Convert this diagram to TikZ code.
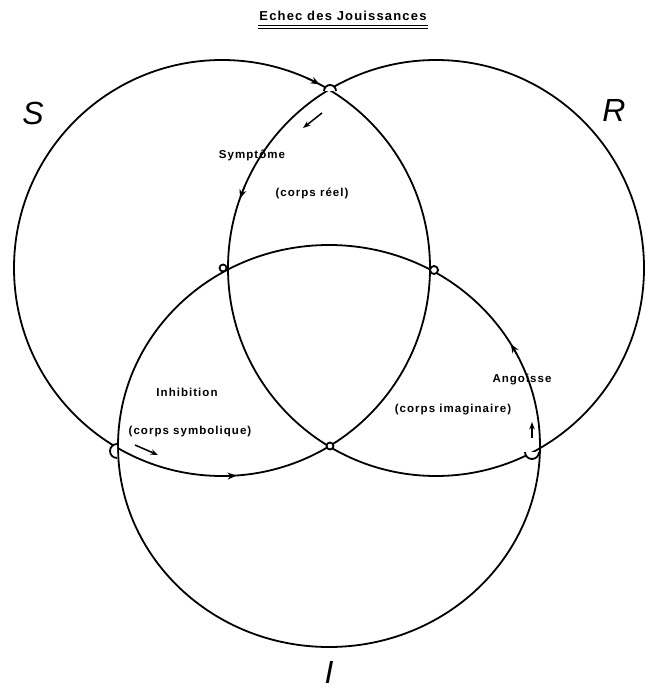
\documentclass[tikz,border=0pt]{standalone}
\usepackage{fontspec}
\setmainfont{Liberation Sans}
\newfontfamily\labfont[LetterSpace=9]{Liberation Sans}
\newfontfamily\bigfont{Liberation Sans}
\usetikzlibrary{arrows.meta}
\tikzset{
  ring/.style={draw, line width=1.8pt},
  lbl/.style={inner sep=0pt, font=\labfont\bfseries\fontsize{11.5}{12}\selectfont},
  reg/.style={inner sep=0pt, font=\bigfont\itshape\fontsize{32}{34}\selectfont},
  tipline/.style={line width=1.5pt, -{Stealth[length=7.5pt,width=5.5pt]}},
  tiponly/.style={line width=1.5pt, -{Stealth[length=9pt,width=7pt]}},
  loopmark/.style={draw, line width=1.8pt, fill=white}
}
\begin{document}
\begin{tikzpicture}[x=1pt,y=-1pt]
\useasboundingbox (0,0) rectangle (652,692);
% circles
\draw[ring] (222,268) circle[radius=208];
\draw[ring] (436,268) circle[radius=208];
\draw[ring] (329,446) ellipse[x radius=211, y radius=201];
% junction coordinates
\coordinate (jT) at (330,91);
\coordinate (jL) at (223,268);
\coordinate (jRr) at (434,270);
\coordinate (jC) at (330,446);
\coordinate (jBL) at (117,451);
\coordinate (jBR) at (532,452);
% junction loops
\draw[loopmark] ([shift={(-6,0)}]jT) arc[start angle=180, end angle=360, radius=6];
\draw[loopmark] (jL) circle[radius=3.5];
\draw[loopmark] (jRr) circle[radius=4];
\draw[loopmark] (jC) circle[radius=3.5];
\draw[loopmark] ([shift={(0,-7)}]jBL) arc[start angle=-90, end angle=-270, radius=7];
\draw[loopmark] ([shift={(-7,0)}]jBR) arc[start angle=180, end angle=0, radius=7];
% arrowheads on arcs
\draw[tiponly] ([shift={(222,268)}]294:208) arc[start angle=294, end angle=298, radius=208];
\draw[tiponly] ([shift={(436,268)}]203:208) arc[start angle=203, end angle=199.5, radius=208];
\draw[tiponly] ([shift={(222,268)}]89:208) arc[start angle=89, end angle=86, radius=208];
\draw[tiponly] ([shift={(329,446)}]333:211 and 201) arc[start angle=333, end angle=329.5, x radius=211, y radius=201];
% short free arrows
\coordinate (a1s) at (322,113); \coordinate (a1e) at (303,128);
\coordinate (a2s) at (135,445); \coordinate (a2e) at (158,455);
\coordinate (a3s) at (532,438); \coordinate (a3e) at (532,422);
\draw[tipline] (a1s) -- (a1e);
\draw[tipline] (a2s) -- (a2e);
\draw[tipline] (a3s) -- (a3e);
% title
\node[inner sep=0pt, font=\labfont\bfseries\fontsize{13}{14}\selectfont] (title) at (343,16) {Echec des Jouissances};
\draw[line width=1pt] (258,26) -- (428,26);
\draw[line width=1pt] (258,28.8) -- (428,28.8);
% labels
\node[lbl] (symp) at (252,155) {Symptôme};
\node[lbl] (creel) at (312,193) {(corps réel)};
\node[lbl] (inhib) at (187,392) {Inhibition};
\node[lbl] (csym) at (190,432) {(corps symbolique)};
\node[lbl] (ango) at (522,380) {Angoisse};
\node[lbl] (cimag) at (453,410) {(corps imaginaire)};
% region letters
\node[reg] (S) at (33,113) {S};
\node[reg] (R) at (614,110) {R};
\node[reg] (I) at (329,672) {I};
\end{tikzpicture}
\end{document}
